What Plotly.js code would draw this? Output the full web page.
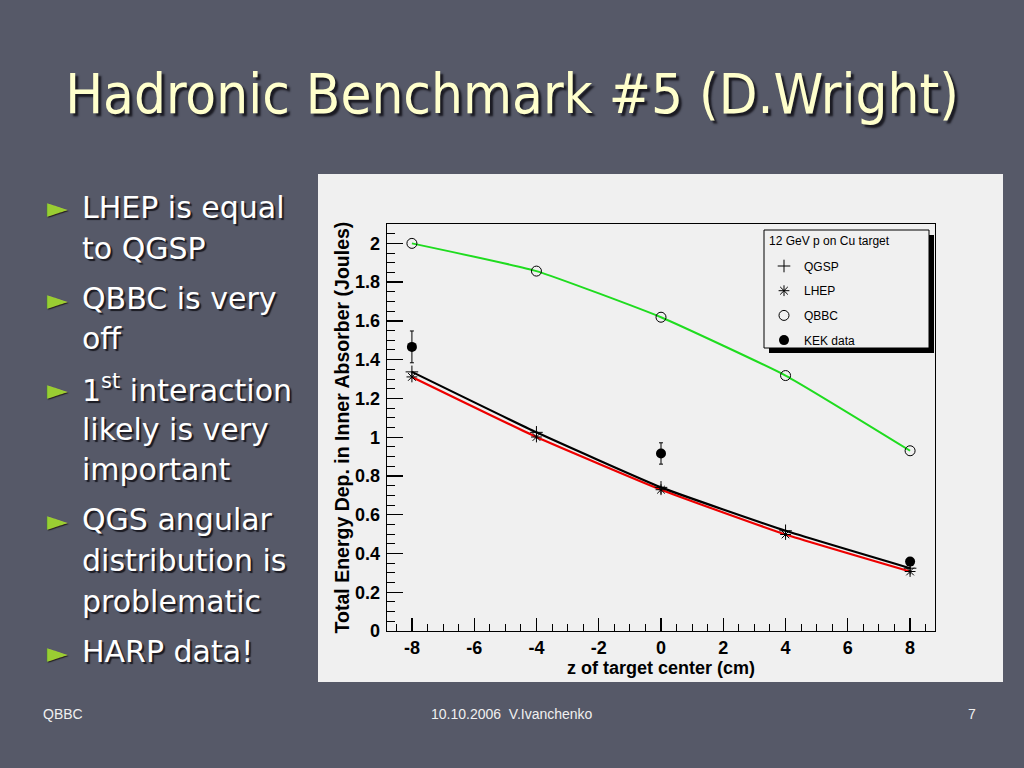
<!DOCTYPE html>
<html>
<head>
<meta charset="utf-8">
<script src="https://cdn.plot.ly/plotly-3.0.1.min.js"></script>
<style>
html,body{margin:0;padding:0;background:#565968;}
#chart{width:1024px;height:768px;}
</style>
</head>
<body>
<div id="chart"></div>
<script>
// ---- data ----
var zPositions = [-8, -4, 0, 4, 8];
var qgspValues = [1.337, 1.025, 0.741, 0.517, 0.324];
var lhepValues = [1.311, 1.001, 0.729, 0.498, 0.307];
var qbbcValues = [2.0, 1.857, 1.619, 1.318, 0.930];
var kekZ = [-8, 0, 8];
var kekValues = [1.466, 0.916, 0.358];
var kekErrors = [0.082, 0.055, 0.012];
var xTickValues = [-8, -6, -4, -2, 0, 2, 4, 6, 8];
var xTickLabels = ["-8", "-6", "-4", "-2", "0", "2", "4", "6", "8"];
var seriesNames = ["QGSP", "LHEP", "QBBC", "KEK data"];
var legendTitle = "12 GeV p on Cu target";
var chartTitle = "Hadronic Benchmark #5 (D.Wright)";
var xTitle = "z of target center (cm)";
var yTitle = "Total Energy Dep. in Inner Absorber (Joules)";
var bulletLines = [
  ["LHEP is equal", "to QGSP"],
  ["QBBC is very", "off"],
  ["1<sup>st</sup> interaction", "likely is very", "important"],
  ["QGS angular", "distribution is", "problematic"],
  ["HARP data!"]
];
var footerLeft = "QBBC";
var footerCenter = "10.10.2006  V.Ivanchenko";
var footerRight = "7";

// ---- layout helpers (pixel -> paper) ----
var L = 387, R = 935, T = 224, B = 631;
function PX(x){ return (x - L) / (R - L); }
function PY(y){ return (B - y) / (B - T); }

var rootFont = "Liberation Sans, Arial, sans-serif";

var traces = [
  {x: zPositions, y: qbbcValues, mode: "lines", line: {color: "#1fdc1f", width: 2, shape: "spline", smoothing: 0.4}, showlegend: false, hoverinfo: "skip"},
  {x: zPositions, y: lhepValues, mode: "lines", line: {color: "#ee0000", width: 2.2, shape: "spline", smoothing: 0.4}, showlegend: false, hoverinfo: "skip"},
  {x: zPositions, y: qgspValues, mode: "lines", line: {color: "#000000", width: 2.2, shape: "spline", smoothing: 0.4}, showlegend: false, hoverinfo: "skip"},
  {x: zPositions, y: qgspValues, mode: "markers", name: seriesNames[0], legendgroup: "a",
   marker: {symbol: "cross-thin-open", size: 9, color: "#000", line: {color: "#000", width: 1}}},
  {x: zPositions, y: lhepValues, mode: "markers", name: seriesNames[1], legendgroup: "b",
   marker: {symbol: "asterisk-open", size: 9, color: "#000", line: {color: "#000", width: 1}}},
  {x: zPositions, y: qbbcValues, mode: "markers", name: seriesNames[2], legendgroup: "c",
   marker: {symbol: "circle-open", size: 10, color: "#000", line: {color: "#000", width: 1}}},
  {x: kekZ, y: kekValues, mode: "markers", name: seriesNames[3], legendgroup: "d",
   marker: {symbol: "circle", size: 10, color: "#000"},
   error_y: {type: "data", array: kekErrors, visible: true, color: "#000", thickness: 1, width: 2}}
];

var annotations = [];
var lineY = [207, 248, 298, 338, 388, 429, 469, 519, 560, 601, 651];
var li = 0;
bulletLines.forEach(function(group){
  annotations.push({xref: "paper", yref: "paper", x: PX(45), y: PY(lineY[li] + 1), xanchor: "left", yanchor: "middle",
    text: "\u25BA", showarrow: false, font: {family: "DejaVu Sans", size: 27, color: "#9acd32", shadow: "1px 1px 1px #222"}});
  group.forEach(function(t){
    annotations.push({xref: "paper", yref: "paper", x: PX(80), y: PY(lineY[li]), xanchor: "left", yanchor: "middle",
      text: t, showarrow: false, font: {family: "DejaVu Sans", size: 30, color: "#ffffff", shadow: "2px 2px 1px #1a1a22"}});
    li++;
  });
});
annotations.push({xref: "paper", yref: "paper", x: PX(63), y: PY(714), xanchor: "center", yanchor: "middle",
  text: footerLeft, showarrow: false, font: {family: rootFont, size: 14, color: "#f0f0f0"}});
annotations.push({xref: "paper", yref: "paper", x: PX(512), y: PY(714), xanchor: "center", yanchor: "middle",
  text: footerCenter, showarrow: false, font: {family: rootFont, size: 14, color: "#f0f0f0"}});
annotations.push({xref: "paper", yref: "paper", x: PX(978), y: PY(714), xanchor: "right", yanchor: "middle",
  text: footerRight, showarrow: false, font: {family: rootFont, size: 14, color: "#f0f0f0"}});
// legend heading drawn inside the ROOT-style legend box
annotations.push({xref: "paper", yref: "paper", x: PX(767), y: PY(241), xanchor: "left", yanchor: "middle",
  text: legendTitle, showarrow: false, font: {family: rootFont, size: 12, color: "#000"}});

var shapes = [
  {type: "rect", xref: "paper", yref: "paper", x0: PX(318), x1: PX(1003), y0: PY(682), y1: PY(174),
   fillcolor: "#f0f0f0", line: {width: 0}, layer: "below"},
  {type: "rect", xref: "paper", yref: "paper", x0: PX(769), x1: PX(934), y0: PY(353), y1: PY(235),
   fillcolor: "#000", line: {width: 0}, layer: "above"},
  {type: "rect", xref: "paper", yref: "paper", x0: PX(764), x1: PX(929), y0: PY(348), y1: PY(230),
   fillcolor: "#f0f0f0", line: {color: "#000", width: 1}, layer: "above"}
];

var layout = {
  width: 1024, height: 768, autosize: false,
  margin: {l: L, r: 1024 - R, t: T, b: 768 - B, pad: 0},
  paper_bgcolor: "#565968",
  plot_bgcolor: "#f0f0f0",
  title: {text: chartTitle, x: 0.5, xref: "container", xanchor: "center", y: 1 - 93/768, yref: "container", yanchor: "middle",
    font: {family: "DejaVu Sans Condensed, DejaVu Sans", size: 56, color: "#ffffcc", shadow: "3px 3px 2px #1a1a22"}},
  showlegend: true,
  legend: {x: PX(764), y: PY(251.5), xanchor: "left", yanchor: "top", bgcolor: "rgba(0,0,0,0)", borderwidth: 0,
    font: {family: rootFont, size: 12, color: "#000"}, traceorder: "grouped", tracegroupgap: 5.7, itemwidth: 30},
  xaxis: {range: [-8.8, 8.8], tickmode: "array", tickvals: xTickValues, ticktext: xTickLabels,
    ticks: "inside", ticklen: 13, tickwidth: 1.3, tickcolor: "#000",
    minor: {dtick: 0.5, tick0: 0, ticks: "inside", ticklen: 7, tickcolor: "#000", tickwidth: 1},
    showline: true, linecolor: "#000", linewidth: 1.3, mirror: true, showgrid: false, zeroline: false,
    tickfont: {family: rootFont, size: 18, color: "#000", weight: "bold"},
    title: {text: xTitle, standoff: 0, font: {family: rootFont, size: 18, color: "#000", weight: "bold"}}, automargin: false},
  yaxis: {range: [0, 2.1], dtick: 0.2, tick0: 0, ticks: "inside", ticklen: 16, tickwidth: 1.3, tickcolor: "#000",
    minor: {dtick: 0.05, ticks: "inside", ticklen: 8, tickcolor: "#000", tickwidth: 1},
    showline: true, linecolor: "#000", linewidth: 1.3, mirror: true, showgrid: false, zeroline: false,
    tickfont: {family: rootFont, size: 18, color: "#000", weight: "bold"}, ticklabelstandoff: 2,
    title: {text: yTitle, standoff: 0, font: {family: rootFont, size: 19.5, color: "#000", weight: "bold"}}, automargin: false},
  shapes: shapes,
  annotations: annotations
};

Plotly.newPlot("chart", traces, layout, {displayModeBar: false, staticPlot: true});
</script>
</body>
</html>
